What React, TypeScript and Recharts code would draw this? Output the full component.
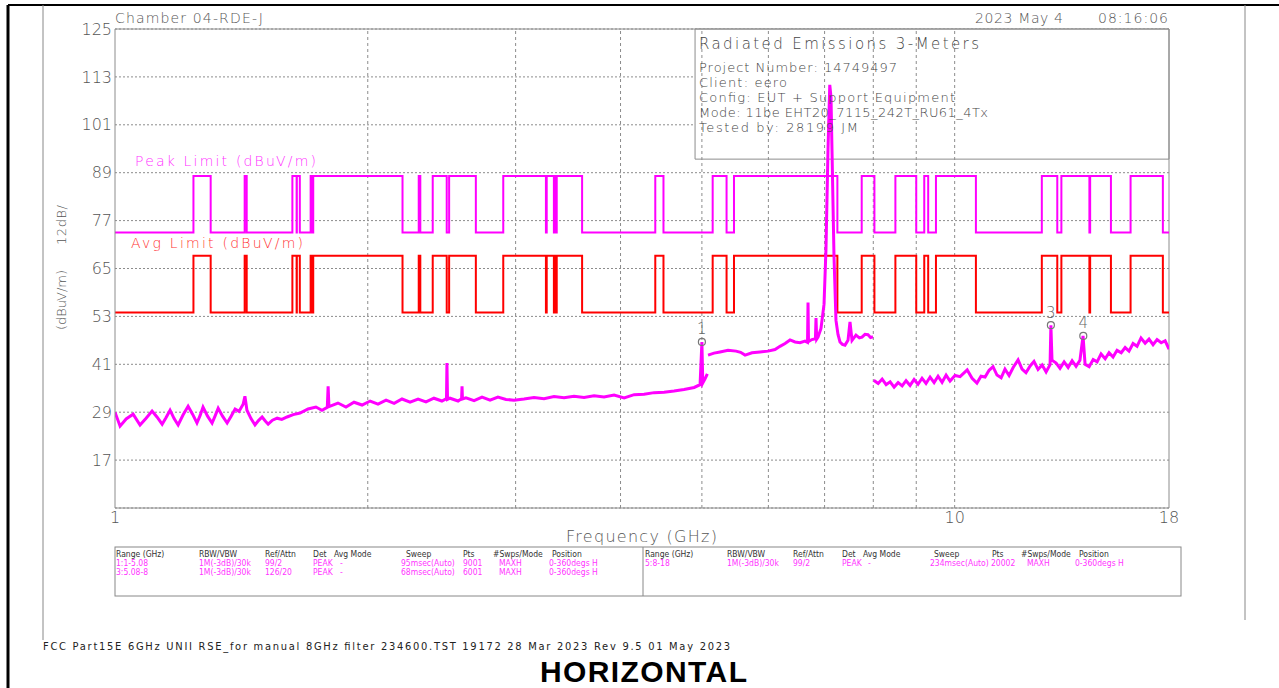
import React from 'react';
import {
  LineChart,
  Line,
  XAxis,
  YAxis,
  CartesianGrid,
  ReferenceLine,
  ReferenceArea,
  ReferenceDot,
} from 'recharts';

const yTicks = [17, 29, 41, 53, 65, 77, 89, 101, 113, 125];
const xTicks = [1, 10, 18];
const logGrid = [2, 3, 4, 5, 6, 7, 8, 9, 10];

// FCC 15.205 restricted band edges (GHz); each limit holds from its edge to the next one
const limitEdges = [
  1, 1.24, 1.3, 1.427, 1.435, 1.6265, 1.6455, 1.6465, 1.66, 1.71, 1.7188, 1.7222,
  2.2, 2.3, 2.31, 2.39, 2.4835, 2.5, 2.69, 2.9, 3.26, 3.267, 3.332, 3.339, 3.3458,
  3.358, 3.6, 4.4, 4.5, 5.15, 5.35, 5.46, 7.25, 7.75, 8.025, 8.5, 9.0, 9.2, 9.3,
  9.5, 10.6, 12.7, 13.25, 13.4, 14.47, 14.5, 15.35, 16.2, 17.7, 18,
];
const peakLimit = [
  74, 88.2, 74, 88.2, 74, 88.2, 74, 88.2, 74, 88.2, 74, 88.2,
  74, 88.2, 74, 88.2, 74, 88.2, 74, 88.2, 74, 88.2, 74, 88.2, 74,
  88.2, 74, 88.2, 74, 88.2, 74, 88.2, 74, 88.2, 74, 88.2, 74, 88.2, 74,
  88.2, 74, 88.2, 74, 88.2, 74, 88.2, 74, 88.2, 74, 74,
];
const avgLimit = [
  54, 68.2, 54, 68.2, 54, 68.2, 54, 68.2, 54, 68.2, 54, 68.2,
  54, 68.2, 54, 68.2, 54, 68.2, 54, 68.2, 54, 68.2, 54, 68.2, 54,
  68.2, 54, 68.2, 54, 68.2, 54, 68.2, 54, 68.2, 54, 68.2, 54, 68.2, 54,
  68.2, 54, 68.2, 54, 68.2, 54, 68.2, 54, 68.2, 54, 54,
];

// range 1: 1 - 5.08 GHz  [GHz, dBuV/m]
const scanLow: [number, number][] = [
  [1.0, 29.0], [1.014, 25.5], [1.031, 27.3], [1.051, 28.5], [1.071, 25.8], [1.089, 27.5],
  [1.107, 29.3], [1.122, 27.8], [1.138, 26.0], [1.15, 27.6], [1.163, 29.5], [1.176, 27.4],
  [1.189, 25.8], [1.205, 28.3], [1.222, 30.5], [1.237, 28.5], [1.252, 26.3], [1.263, 28.2],
  [1.273, 30.3], [1.289, 28.0], [1.305, 26.3], [1.316, 28.1], [1.327, 30.0], [1.343, 28.0],
  [1.36, 26.3], [1.375, 28.0], [1.39, 29.8], [1.405, 29.2], [1.421, 31.0], [1.428, 33.0],
  [1.436, 29.5], [1.452, 27.4], [1.468, 25.8], [1.482, 26.9], [1.497, 27.8], [1.51, 26.8],
  [1.522, 26.0], [1.54, 27.0], [1.56, 27.5], [1.58, 27.2], [1.603, 27.8], [1.63, 28.4],
  [1.661, 28.8], [1.698, 29.8], [1.735, 30.3], [1.764, 29.5], [1.79, 30.2], [1.794, 35.5],
  [1.798, 30.4], [1.843, 31.3], [1.884, 30.3], [1.926, 31.5], [1.969, 30.8], [2.013, 31.8],
  [2.057, 31.0], [2.103, 32.0], [2.15, 31.2], [2.197, 32.3], [2.246, 31.5], [2.296, 32.3],
  [2.346, 31.6], [2.398, 32.5], [2.451, 31.8], [2.482, 32.4], [2.485, 41.3], [2.489, 32.2],
  [2.506, 32.5], [2.562, 31.8], [2.587, 32.4], [2.59, 35.5], [2.593, 32.3], [2.618, 32.6],
  [2.677, 31.9], [2.736, 32.8], [2.797, 32.0], [2.858, 32.8], [2.922, 32.2], [2.987, 32.0],
  [3.07, 32.3], [3.155, 32.7], [3.243, 32.4], [3.333, 32.9], [3.426, 32.6], [3.521, 33.0],
  [3.619, 32.7], [3.72, 33.1], [3.823, 32.8], [3.93, 33.3], [4.04, 32.6], [4.152, 33.4],
  [4.267, 33.5], [4.386, 33.9], [4.508, 34.0], [4.633, 34.3], [4.761, 34.7], [4.895, 35.2],
  [4.975, 35.9], [5.0, 46.6], [5.012, 36.3], [5.045, 37.4], [5.075, 38.6],
];

// range 3: 5.08 - 8 GHz
const scanMid: [number, number][] = [
  [5.085, 43.3], [5.169, 43.8], [5.255, 44.1], [5.372, 44.5], [5.491, 44.3], [5.56, 44.0],
  [5.628, 43.3], [5.737, 43.9], [5.864, 44.1], [5.994, 44.3], [6.11, 44.7], [6.194, 45.5],
  [6.281, 46.2], [6.367, 47.1], [6.455, 46.6], [6.544, 46.4], [6.634, 46.8], [6.68, 46.5],
  [6.689, 56.5], [6.698, 46.7], [6.76, 47.2], [6.826, 47.4], [6.837, 52.6], [6.85, 47.3],
  [6.875, 47.8], [6.931, 50.0], [6.989, 56.0], [7.027, 70.0], [7.066, 95.0], [7.1, 111.0],
  [7.124, 108.0], [7.143, 95.0], [7.183, 68.0], [7.222, 52.0], [7.262, 48.5], [7.302, 46.6],
  [7.35, 46.0], [7.403, 45.8], [7.464, 47.0], [7.505, 51.6], [7.547, 47.0], [7.629, 48.3],
  [7.7, 47.6], [7.756, 47.8], [7.82, 48.5], [7.884, 48.4], [7.94, 47.7], [7.993, 47.9],
];

// range 5: 8 - 18 GHz
const scanHigh: [number, number][] = [
  [8.01, 37.0], [8.108, 36.2], [8.197, 37.3], [8.287, 35.9], [8.378, 36.6], [8.47, 35.3],
  [8.564, 36.4], [8.659, 35.6], [8.752, 36.9], [8.849, 35.7], [8.947, 37.2], [9.044, 36.0],
  [9.144, 37.5], [9.245, 36.2], [9.348, 37.8], [9.452, 36.4], [9.555, 38.0], [9.661, 36.5],
  [9.768, 38.3], [9.874, 36.8], [10.01, 38.2], [10.15, 37.9], [10.35, 39.6], [10.49, 37.5],
  [10.63, 36.3], [10.75, 38.0], [10.87, 37.8], [10.99, 39.5], [11.11, 40.4], [11.23, 38.3],
  [11.36, 37.6], [11.48, 39.8], [11.61, 38.2], [11.74, 40.2], [11.9, 42.1], [12.03, 39.8],
  [12.16, 38.9], [12.3, 40.6], [12.43, 41.7], [12.57, 39.7], [12.71, 40.8], [12.85, 39.1],
  [12.99, 40.9], [13.02, 50.8], [13.06, 42.0], [13.21, 41.3], [13.35, 40.0], [13.5, 41.6],
  [13.65, 40.2], [13.8, 41.9], [13.95, 40.5], [14.1, 42.0], [14.22, 48.1], [14.3, 41.0],
  [14.46, 40.4], [14.62, 42.2], [14.78, 41.6], [14.94, 43.6], [15.11, 42.4], [15.27, 43.9],
  [15.44, 42.8], [15.61, 44.5], [15.79, 43.9], [15.96, 45.2], [16.13, 44.3], [16.31, 46.2],
  [16.49, 45.5], [16.67, 47.6], [16.86, 46.3], [17.04, 47.3], [17.23, 45.9], [17.42, 47.2],
  [17.62, 46.4], [17.81, 46.9], [18.0, 44.8],
];

const markerLabels = ['1', '3', '4'];
const markerFreqs = [5.0, 13.02, 14.23];
const markerLevels = [46.6, 50.8, 48.1];

const infoLines = [
  'Project Number: 14749497',
  'Client: eero',
  'Config: EUT + Support Equipment',
  'Mode: 11be EHT20_7115_242T_RU61_4Tx',
  'Tested by: 28199 JM',
];
const infoWidths = [198, 88, 256, 289, 159];

const tableHeader = ['Range (GHz)', 'RBW/VBW', 'Ref/Attn', 'Det', 'Avg Mode', 'Sweep', 'Pts', '#Swps/Mode', 'Position'];
const leftRows = [
  ['1:1-5.08', '1M(-3dB)/30k', '99/2', 'PEAK', '-', '95msec(Auto)', '9001', 'MAXH', '0-360degs H'],
  ['3:5.08-8', '1M(-3dB)/30k', '126/20', 'PEAK', '-', '68msec(Auto)', '6001', 'MAXH', '0-360degs H'],
];
const rightRows = [
  ['5:8-18', '1M(-3dB)/30k', '99/2', 'PEAK', '-', '234msec(Auto)', '20002', 'MAXH', '0-360degs H'],
];
const leftHeadX = [116, 199, 265, 313, 334, 406, 463, 493, 552];
const leftValX = [116, 199, 265, 313, 340, 401, 463, 499, 549];
const rightHeadX = [645, 727, 793, 842, 863, 934, 992, 1021, 1079];
const rightValX = [645, 727, 793, 842, 868, 930, 991, 1027, 1075];

const FONT = "'DejaVu Sans', 'Liberation Sans', sans-serif";
const NARROW = "'Liberation Sans Narrow', 'DejaVu Sans Condensed', 'Liberation Sans', sans-serif";
const TRACE = '#ff00ff';

const toPts = (rows: [number, number][]) => rows.map(([f, v]) => ({ f, v }));
const peakData = limitEdges.map((f, i) => ({ f, v: peakLimit[i] }));
const avgData = limitEdges.map((f, i) => ({ f, v: avgLimit[i] }));

const tickStyle = { fill: '#555', fontSize: 16, fontFamily: FONT, fontWeight: 200 };

export default function App() {
  return (
    <div style={{ position: 'absolute', left: 0, top: 0, width: 1279, height: 688, background: '#fff' }}>
      <div style={{ position: 'absolute', left: 0, top: 0 }}>
        <LineChart width={1279} height={688} margin={{ top: 29, right: 110, bottom: 150, left: 55 }}>
          <CartesianGrid vertical={false} stroke="#8c8c8c" strokeDasharray="2 2" />
          <XAxis
            dataKey="f"
            type="number"
            scale="log"
            domain={[1, 18]}
            ticks={xTicks}
            interval={0}
            allowDataOverflow
            height={30}
            tickSize={0}
            tickMargin={4}
            tick={tickStyle}
            stroke="#8c8c8c"
          />
          <YAxis
            type="number"
            domain={[5, 125]}
            ticks={yTicks}
            interval={0}
            allowDataOverflow
            width={60}
            tickSize={0}
            tickMargin={3}
            tick={tickStyle}
            stroke="#8c8c8c"
          />
          {logGrid.map((g) => (
            <ReferenceLine key={g} x={g} stroke="#8c8c8c" strokeDasharray="3 3" />
          ))}
          <ReferenceLine y={125} stroke="#8c8c8c" />
          <ReferenceLine x={18} stroke="#8c8c8c" />
          <ReferenceArea x1={4.907} x2={18} y1={92.4} y2={125} fill="#fff" fillOpacity={1} stroke="#8c8c8c" />
          <Line data={peakData} dataKey="v" type="stepAfter" stroke={TRACE} strokeWidth={2} dot={false} isAnimationActive={false} />
          <Line data={avgData} dataKey="v" type="stepAfter" stroke="#ff0000" strokeWidth={2} dot={false} isAnimationActive={false} />
          <Line data={toPts(scanLow)} dataKey="v" type="linear" stroke={TRACE} strokeWidth={3} dot={false} isAnimationActive={false} />
          <Line data={toPts(scanMid)} dataKey="v" type="linear" stroke={TRACE} strokeWidth={3} dot={false} isAnimationActive={false} />
          <Line data={toPts(scanHigh)} dataKey="v" type="linear" stroke={TRACE} strokeWidth={3} dot={false} isAnimationActive={false} />
          {markerLabels.map((m, i) => (
            <ReferenceDot
              key={m}
              x={markerFreqs[i]}
              y={markerLevels[i]}
              r={3.5}
              fill="none"
              stroke="#777"
              strokeWidth={1.2}
              label={{ value: m, position: 'top', offset: 4, fill: '#666', fontSize: 15, fontFamily: FONT, fontWeight: 200 }}
            />
          ))}
        </LineChart>
      </div>

      <svg width={1279} height={688} style={{ position: 'absolute', left: 0, top: 0, pointerEvents: 'none' }}>
        {/* page frame */}
        <line x1={8} y1={5} x2={1279} y2={5} stroke="#000" strokeWidth={2} />
        <line x1={8} y1={5} x2={8} y2={688} stroke="#000" strokeWidth={3} />
        <line x1={43} y1={5} x2={43} y2={640} stroke="#888" strokeWidth={1} />
        <line x1={1245} y1={5} x2={1245} y2={620} stroke="#888" strokeWidth={1} />

        <g fontFamily={FONT} fontWeight={200} fill="#555">
          <text x={115} y={23} fontSize={14} textLength={148}>Chamber 04-RDE-J</text>
          <text x={975} y={23} fontSize={14} textLength={88}>2023 May 4</text>
          <text x={1098} y={23} fontSize={14} textLength={70}>08:16:06</text>

          <text x={699} y={49} fontSize={15} fill="#444" textLength={280}>Radiated Emissions 3-Meters</text>
          {infoLines.map((t, i) => (
            <text key={t} x={699} y={72 + i * 15} fontSize={13} fill="#444" textLength={infoWidths[i]}>{t}</text>
          ))}

          <text x={135} y={166} fontSize={14} fill="#ff33ff" textLength={181}>Peak Limit (dBuV/m)</text>
          <text x={131} y={248} fontSize={14} fill="#ff3333" textLength={172}>Avg Limit (dBuV/m)</text>

          <text x={566} y={542} fontSize={16} textLength={151}>Frequency (GHz)</text>
          <text transform="translate(66,330) rotate(-90)" fontSize={13} textLength={60}>(dBuV/m)</text>
          <text transform="translate(66,245) rotate(-90)" fontSize={13} textLength={40}>12dB/</text>
        </g>

        {/* sweep settings table */}
        <rect x={115} y={547} width={1066} height={49} fill="none" stroke="#888" />
        <line x1={643} y1={547} x2={643} y2={596} stroke="#888" />
        <g fontFamily={NARROW} fontSize={8.5}>
          {tableHeader.map((h, i) => (
            <text key={'lh' + h} x={leftHeadX[i]} y={557} fill="#333">{h}</text>
          ))}
          {tableHeader.map((h, i) => (
            <text key={'rh' + h} x={rightHeadX[i]} y={557} fill="#333">{h}</text>
          ))}
          {leftRows.map((row, r) =>
            row.map((c, i) => (
              <text key={'l' + r + i} x={leftValX[i]} y={566 + r * 9} fill="#ff33ff">{c}</text>
            ))
          )}
          {rightRows.map((row, r) =>
            row.map((c, i) => (
              <text key={'r' + r + i} x={rightValX[i]} y={566 + r * 9} fill="#ff33ff">{c}</text>
            ))
          )}
        </g>

        <text x={43} y={650} fontFamily={NARROW} fontSize={11} fill="#222" textLength={687}>
          FCC Part15E 6GHz UNII RSE_for manual 8GHz filter 234600.TST 19172 28 Mar 2023 Rev 9.5 01 May 2023
        </text>
        <text x={540} y={682} fontFamily="'Liberation Sans', Arial, sans-serif" fontWeight={700} fontSize={30} fill="#000" textLength={207}>
          HORIZONTAL
        </text>
      </svg>
    </div>
  );
}
